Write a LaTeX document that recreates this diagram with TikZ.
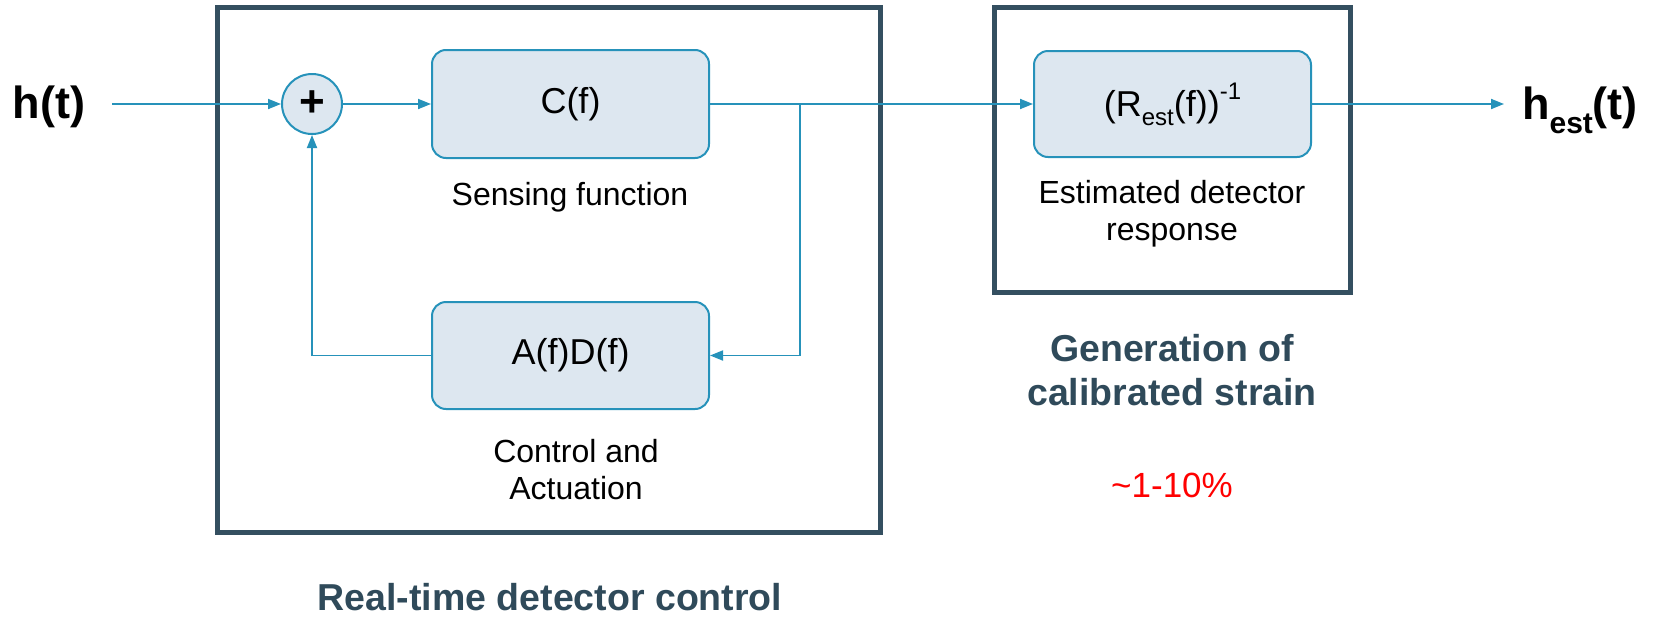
\documentclass[tikz,border=0pt]{standalone}
\usepackage{fontspec}
\setmainfont{Liberation Sans}
\usetikzlibrary{arrows.meta}
\definecolor{lineblue}{RGB}{38,146,186}
\definecolor{boxfill}{RGB}{221,231,240}
\definecolor{frameslate}{RGB}{52,79,96}
\definecolor{titleslate}{RGB}{47,74,90}
\begin{document}
\begin{tikzpicture}[x=1pt,y=-1pt,
  conn/.style={draw=lineblue, line width=1.8pt, -{Triangle[length=13pt,width=10pt]}},
  block/.style={draw=lineblue, line width=2pt, fill=boxfill, rounded corners=14pt, minimum width=277pt, minimum height=108pt, inner sep=0pt, font=\fontsize{36}{43}\selectfont},
  sumnode/.style={circle, draw=lineblue, line width=2pt, fill=boxfill, minimum size=60pt, inner sep=0pt, font=\fontsize{44}{50}\selectfont\bfseries},
  frame/.style={draw=frameslate, line width=5pt, inner sep=0pt},
  lbl/.style={align=center, font=\fontsize{32}{37}\selectfont, inner sep=0pt},
  title/.style={align=center, text=titleslate, font=\fontsize{37.5}{44}\selectfont\bfseries, inner sep=0pt},
  sig/.style={font=\fontsize{45}{50}\selectfont\bfseries, inner sep=0pt}
]
\useasboundingbox (0,0) rectangle (1653,616);

% frames
\node[frame, minimum width=663pt, minimum height=525pt] (ctl) at (549,270) {};
\node[frame, minimum width=356pt, minimum height=285pt] (gen) at (1172.5,150) {};

% blocks
\node[sumnode] (sum) at (312,104) {+};
\node[block] (C) at (570.5,104) {C(f)};
\node[block, minimum height=107pt] (AD) at (570.5,355.5) {A(f)D(f)};
\node[block, minimum height=106pt] (R) at (1172.5,104) {(R\raisebox{-9pt}{\fontsize{24}{24}\selectfont est}(f))\raisebox{17pt}{\fontsize{24}{24}\selectfont -1}};

% signals
\node[sig] (hin) at (49,107) {h(t)};
\node[sig] (hout) at (1580,110) {h\raisebox{-14pt}{\fontsize{30}{30}\selectfont est}(t)};

% labels
\node[lbl] (sens) at (570,197) {Sensing function};
\node[lbl] (act) at (576,470) {Control and\\Actuation};
\node[lbl] (est) at (1172,214) {Estimated detector\\response};
\node[title] (t1) at (550,597) {Real-time detector control};
\node[title] (t2) at (1172,370) {Generation of\\calibrated strain};
\node[font=\fontsize{35}{40}\selectfont, text=red, inner sep=0pt] (pct) at (1172,485) {\textasciitilde 1-10\%};

% connectors
\coordinate (in) at (112,104);
\coordinate (br) at (800,104);
\coordinate (out) at (1504,104);
\draw[conn] (in) -- (sum);
\draw[conn] (sum) -- (C);
\draw[conn] (C) -- (R);
\draw[conn] (br) |- (AD);
\draw[conn] (AD) -| (sum);
\draw[conn] (R) -- (out);
\end{tikzpicture}
\end{document}
